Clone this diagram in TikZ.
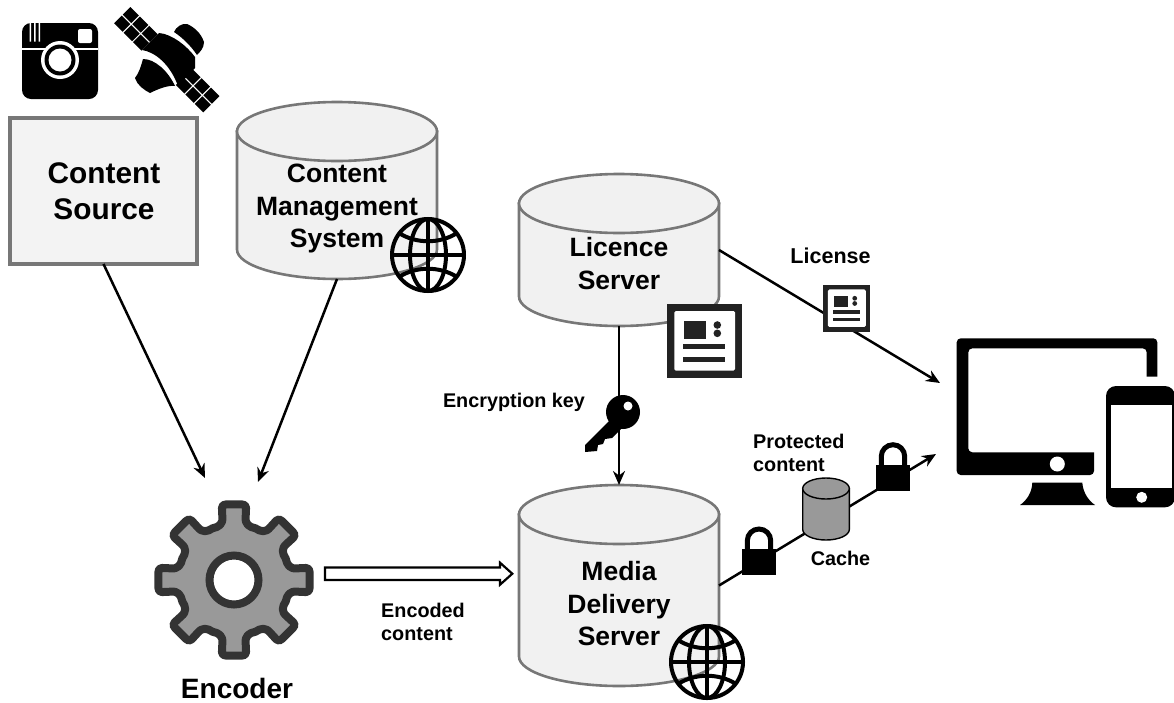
\documentclass[tikz,border=0pt]{standalone}
\usepackage{fontspec}
\setmainfont{Liberation Sans}
\usetikzlibrary{arrows.meta,calc}
\definecolor{cylfill}{HTML}{F1F1F1}
\definecolor{cylline}{HTML}{777777}
\definecolor{srcfill}{HTML}{F3F3F3}
\definecolor{gearfill}{HTML}{999999}
\definecolor{gearline}{HTML}{333333}
\definecolor{docdark}{HTML}{222222}
\tikzset{
  x=1pt,y=-1pt,
  anchorbox/.style={inner sep=0pt,outer sep=0pt,minimum width=#1},
  bigtext/.style={font=\fontsize{26.5}{32.5}\selectfont\bfseries,align=center,inner sep=0pt},
  smalltext/.style={font=\fontsize{19.8}{23}\selectfont\bfseries,inner sep=0pt},
  conn/.style={line width=2.5pt,black},
  tip/.style={-{Stealth[length=14pt,width=12pt]}},
  bigcyl/.style={fill=cylfill,draw=cylline,line width=2.6pt},
  smallcyl/.style={fill=gearfill,draw=black,line width=1.4pt},
  globe/.pic={
    \draw[line width=4pt,black] (0,0) circle[radius=36];
    \draw[line width=4pt,black] (0,0) ellipse[x radius=18,y radius=36];
    \draw[line width=4pt,black] (-36,0) -- (36,0) (0,-36) -- (0,36);
    \draw[line width=4pt,black] (-29,-22) .. controls (-12,-11) and (12,-11) .. (29,-22);
    \draw[line width=4pt,black] (-29,22) .. controls (-12,11) and (12,11) .. (29,22);
  },
  docicon/.pic={
    \fill[docdark] (-37.5,-37) rectangle (37.5,37);
    \fill[white,rounded corners=1.5pt] (-30.2,-30) rectangle (30.5,29.7);
    \fill[docdark] (-20.5,-20.3) rectangle (1.5,-2.3);
    \fill[docdark] (12.8,-16) circle[radius=3.8] (12.8,-7.7) circle[radius=3.8];
    \fill[docdark] (-21.2,3.3) rectangle (20.5,8.3);
    \fill[docdark] (-21.2,15.7) rectangle (20.5,21);
  },
  lockicon/.pic={
    \fill[black] (-16.7,-12.8) rectangle (16.7,12.8);
    \draw[black,line width=5pt] (-11.7,-11) -- (-11.7,-21.5) .. controls (-11.7,-28) and (-6.5,-33.2) .. (0,-33.2) .. controls (6.5,-33.2) and (11.7,-28) .. (11.7,-21.5) -- (11.7,-11);
  }
}
\newcommand{\cylshape}[6]{% cx, top, bottom, rx, ry, style
  \draw[#6] ({#1-#4},{#2+#5}) -- ({#1-#4},{#3-#5})
    .. controls ({#1-#4},{#3-0.45*#5}) and ({#1-0.55*#4},{#3}) .. ({#1},{#3})
    .. controls ({#1+0.55*#4},{#3}) and ({#1+#4},{#3-0.45*#5}) .. ({#1+#4},{#3-#5})
    -- ({#1+#4},{#2+#5}) -- cycle;
  \draw[#6] ({#1},{#2+#5}) ellipse[x radius=#4,y radius=#5];
}
\begin{document}
\begin{tikzpicture}
\useasboundingbox (0,0) rectangle (1174,702);
% --- anchor nodes
\node[anchorbox=187pt,minimum height=146pt] (src) at (103.5,191) {};
\node[anchorbox=200pt,minimum height=177pt] (cms) at (337,190.5) {};
\node[anchorbox=200pt,minimum height=152pt] (lic) at (619,250) {};
\node[anchorbox=200pt,minimum height=201pt] (mds) at (619,585.5) {};
\node[anchorbox=154pt,minimum height=154pt] (enc) at (234,580) {};
\coordinate (licend) at (940,383);
\coordinate (cacheend) at (936,454);
\coordinate (hollowS) at ($(enc.east)+(14,-6.3)$);
\coordinate (hollowE) at ($(mds.west)+(-6.7,-11.8)$);
% --- source box and cylinders
\draw[fill=srcfill,draw=cylline,line width=3.2pt] (src.south west) rectangle (src.north east);
\cylshape{337}{102}{279}{100}{29.5}{bigcyl}
\cylshape{619}{174}{326}{100}{29.5}{bigcyl}
\cylshape{619}{485}{686}{100}{29.5}{bigcyl}
% --- connectors
\draw[conn,tip] (src.south) -- ([shift={(-29,-25)}]enc.north);
\draw[conn,tip] (cms.south) -- ([shift={(24,-21)}]enc.north);
\draw[conn,tip] (lic.south) -- (mds.north);
\draw[conn,tip] (lic.east) -- (licend);
\draw[conn,tip] (mds.east) -- (cacheend);
\draw[fill=white,draw=black,line width=2.2pt,miter limit=4]
  ($(hollowS)+(0,-6.3)$) -- ($(hollowE)+(-12.3,-6.3)$) -- ($(hollowE)+(-12.3,-11)$) -- (hollowE)
  -- ($(hollowE)+(-12.3,11)$) -- ($(hollowE)+(-12.3,6.3)$) -- ($(hollowS)+(0,6.3)$) -- cycle;
% --- cache
\cylshape{826}{478}{540}{23.3}{10.5}{smallcyl}
% --- gear
\draw[fill=gearfill,draw=gearline,line width=8pt,line join=round]
  (enc.center) ++(-112.5:56)
  \foreach \a in {-90,-45,0,45,90,135,180,225} {
    -- ($(enc.center)+(\a-22.5:56)$)
    .. controls ($(enc.center)+(\a-16:55)$) and ($(enc.center)+(\a-11:57)$) .. ($(enc.center)+(\a-10.5:64)$)
    -- ($(enc.center)+(\a-9.5:73)$)
    .. controls ($(enc.center)+(\a-9:76)$) and ($(enc.center)+(\a-8:76)$) .. ($(enc.center)+(\a-6:76)$)
    -- ($(enc.center)+(\a+6:76)$)
    .. controls ($(enc.center)+(\a+8:76)$) and ($(enc.center)+(\a+9:76)$) .. ($(enc.center)+(\a+9.5:73)$)
    -- ($(enc.center)+(\a+10.5:64)$)
    .. controls ($(enc.center)+(\a+11:57)$) and ($(enc.center)+(\a+16:55)$) .. ($(enc.center)+(\a+22.5:56)$)
  } -- cycle;
\draw[fill=white,draw=gearline,line width=8pt] (enc.center) circle[radius=24.5];
% --- camera
\fill[black,rounded corners=9pt] (22,23) rectangle (98,99);
\fill[white] (22,47.5) rectangle (98,49.5);
\fill[white] (29.5,23) rectangle (31,41.5) (34,23) rectangle (35.5,41.5) (38.5,23) rectangle (40,41.5);
\fill[white,rounded corners=2pt] (78,29) rectangle (92,43);
\fill[white] (60,60) circle[radius=19];
\fill[black] (60,60) circle[radius=15.5];
\fill[white] (60,60) circle[radius=11.5];
% --- satellite
\begin{scope}[shift={(167,60)},rotate=-45]
  \foreach \u in {-63.3,-50,-36.7,24,37.3,50.6} {
    \foreach \v in {-11.5,0.7} {
      \fill[black] (\u,\v) rectangle ++(12,10.7);
    }
  }
\end{scope}
\fill[black] (142,50) -- (159,33) .. controls (172,34) and (187,46) .. (195,57) -- (195,68) -- (178,86) .. controls (170,64) and (155,52) .. (142,50) -- cycle;
\fill[black] (174,32) .. controls (176,27) and (182,23) .. (187,24) .. controls (194,27) and (201,33) .. (204,42) .. controls (204,48) and (200,52) .. (197,55) .. controls (191,46) and (183,38) .. (174,32) -- cycle;
\fill[black] (143,59) .. controls (155,59) and (168,71) .. (175,86) .. controls (168,85) and (158,89) .. (150,93) .. controls (144,90) and (137,85) .. (135,78) .. controls (139,73) and (141,66) .. (143,59) -- cycle;
% --- globes
\pic at (428,255) {globe};
\pic at (707,662) {globe};
% --- document icons
\pic at (704.5,341) {docicon};
\pic[scale=0.627] at (846.7,308.3) {docicon};
% --- key
\fill[black] (623,412) circle[radius=17];
\fill[black] (610,420) -- (585,445) -- (585,452) -- (597,451) -- (598,445) -- (603,444) -- (605,439) -- (612,438) -- (622,428) -- cycle;
\fill[white] (628,406) circle[radius=4.5];
% --- locks
\pic at (759,562.2) {lockicon};
\pic at (893,477.9) {lockicon};
% --- devices
\fill[black,rounded corners=4pt] (1157.3,376.7) -- (1157.3,338.3) -- (956.7,338.3) -- (956.7,475) -- (1094,475)
  [sharp corners] -- (1094,452.3) [rounded corners=4pt] -- (968.3,452.3) -- (968.3,348.3) -- (1146.7,348.3) [sharp corners] -- (1146.7,376.7) -- cycle;
\fill[white] (1057.3,464) circle[radius=7.5];
\fill[black] (1032.3,482.7) -- (1082.3,482.7) .. controls (1083,493) and (1089,501) .. (1095,505) -- (1020,505) .. controls (1026,501) and (1032,493) .. (1032.3,482.7) -- cycle;
\fill[black,rounded corners=10pt] (1106,386) rectangle (1175,507.3);
\fill[white] (1111,405) rectangle (1171.7,488.3);
\fill[white] (1141.7,497.3) circle[radius=5.5];
% --- texts
\node[bigtext,font=\fontsize{29.8}{36}\selectfont\bfseries] (tsrc) at (104,191) {Content\\Source};
\node[bigtext] (tcms) at (337,208.5) {Content\\Management\\System};
\node[bigtext] (tlic) at (619,263.5) {Licence\\Server};
\node[bigtext] (tmds) at (619,604) {Media\\Delivery\\Server};
\node[bigtext,font=\fontsize{28}{32}\selectfont\bfseries] (tenc) at (237,688) {Encoder};
\node[smalltext,align=left,anchor=west] (tenced) at (381,622) {Encoded\\content};
\node[smalltext,font=\fontsize{21.5}{23}\selectfont\bfseries] (tlicense) at (830.5,256) {License};
\node[smalltext] (tkey) at (514,402.5) {Encryption key};
\node[smalltext,align=left,anchor=west] (tprot) at (753,452.5) {Protected\\content};
\node[smalltext] (tcache) at (840.5,558) {Cache};
\end{tikzpicture}
\end{document}
